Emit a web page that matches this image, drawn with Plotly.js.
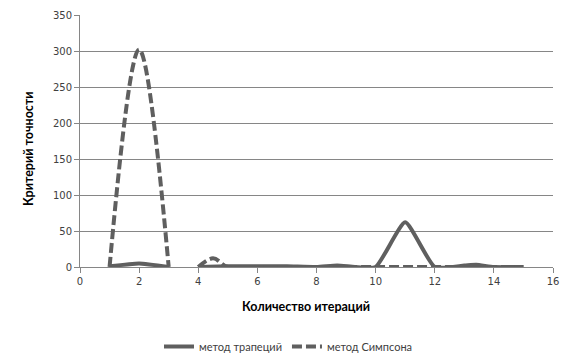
<!DOCTYPE html>
<html>
<head>
<meta charset="utf-8">
<script src="https://cdn.plot.ly/plotly-3.0.1.min.js"></script>
<style>html,body{margin:0;padding:0;background:#fff;}#chart{width:577px;height:361px;}</style>
</head>
<body>
<div id="chart"></div>
<script>
// Series: "метод трапеций" (trapezoid method)
var trapX = [1, 2, 3, null, 4, 5, 6, 7, 8, 8.7, 9.3, 10, 11, 12, 13, 13.4, 14, 15];
var trapY = [1, 5, 0, null, 0, 1, 1, 1, 0, 2, 0, 0, 62, 0, 2, 3, 0, 0];
// Series: "метод Симпсона" (Simpson method)
var simpX = [1, 2, 3, null, 4, 4.5, 5, 6, 7, 8, 9, 10, 11, 12, 13, 14, 15];
var simpY = [0, 302, 0, null, 0, 12, 0, 0, 0, 0, 0, 0, 0, 0, 0, 0, 0];

var names = ["метод трапеций", "метод Симпсона"];
var xTitle = "Количество итераций";
var yTitle = "Критерий точности";

var lineColor = "#5f5f5f";
var gridColor = "#868686";
var titleFont = {family: "Lato, sans-serif", size: 12.5, color: "#000", weight: "bold"};

var traces = [
  {x: trapX, y: trapY, name: names[0], type: "scatter", mode: "lines",
   line: {color: lineColor, width: 4, shape: "spline", smoothing: 0.5}, connectgaps: false},
  {x: simpX, y: simpY, name: names[1], type: "scatter", mode: "lines",
   line: {color: lineColor, width: 4, shape: "spline", smoothing: 1, dash: "10px,4px"}, connectgaps: false}
];

var layout = {
  width: 577, height: 361,
  margin: {l: 80, r: 24, t: 15, b: 94},
  paper_bgcolor: "#fff", plot_bgcolor: "#fff",
  showlegend: true,
  legend: {orientation: "h", xref: "container", yref: "container", x: 0.5, xanchor: "center", y: -0.03, yanchor: "bottom",
           font: {family: "Lato, sans-serif", size: 11, color: "#404040"}, itemwidth: 30, tracegroupgap: 0},
  xaxis: {
    range: [0, 16], dtick: 2, tick0: 0, zeroline: false, showgrid: false,
    showline: true, linecolor: gridColor, linewidth: 1,
    ticks: "outside", ticklen: 5, tickcolor: gridColor,
    tickfont: {family: "DejaVu Sans, sans-serif", size: 10, color: "#404040"}
  },
  yaxis: {
    range: [0, 350], dtick: 50, tick0: 0, zeroline: false, showgrid: true, gridcolor: gridColor, gridwidth: 1,
    showline: true, linecolor: gridColor, linewidth: 1,
    ticks: "outside", ticklen: 5, tickcolor: gridColor,
    tickfont: {family: "DejaVu Sans, sans-serif", size: 10, color: "#404040"}
  },
  annotations: [
    {text: xTitle, xref: "paper", yref: "paper", x: 0.478, y: -0.155, xanchor: "center", yanchor: "middle",
     showarrow: false, font: titleFont},
    {text: yTitle, xref: "paper", yref: "paper", x: -0.11, y: 0.472, xanchor: "center", yanchor: "middle",
     showarrow: false, textangle: -90, font: titleFont}
  ]
};

Plotly.newPlot("chart", traces, layout, {displayModeBar: false, staticPlot: true});
</script>
</body>
</html>
